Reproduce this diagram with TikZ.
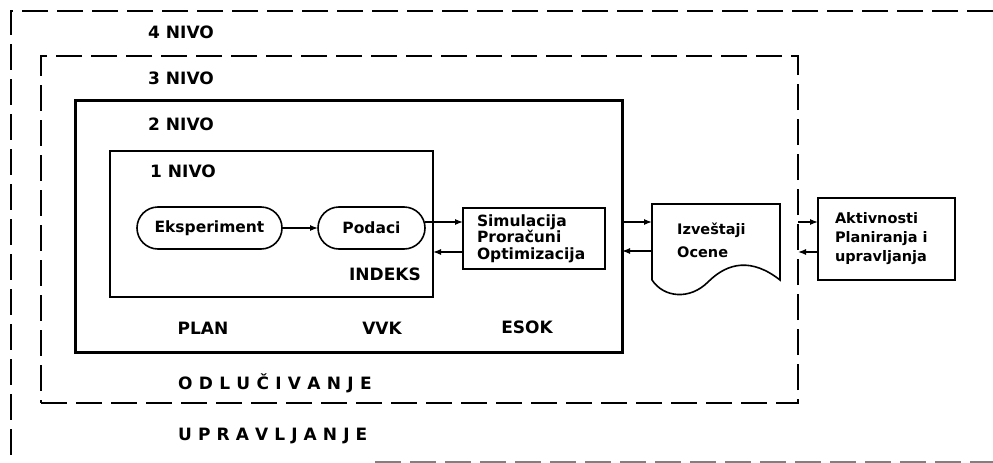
\documentclass[tikz,border=0pt]{standalone}
\usepackage{fontspec}
\setmainfont{DejaVu Sans}
\usetikzlibrary{arrows.meta}
\tikzset{
  lbl/.style={font=\fontsize{17}{19}\selectfont\bfseries, inner sep=0pt},
  boxtxt/.style={font=\fontsize{15.5}{16.5}\selectfont\bfseries},
  lvdash/.style={line width=1.8pt, dash pattern=on 26pt off 9pt},
  lvbox/.style={draw, inner sep=0pt, outer sep=0pt},
  pill/.style={draw, line width=1.6pt, rounded corners=21pt, minimum height=42pt, inner sep=0pt, outer sep=0pt,
    font=\fontsize{15.5}{16.5}\selectfont\bfseries},
  rbox/.style={draw, line width=1.6pt, inner sep=0pt, outer sep=0pt, align=left},
  arr/.style={line width=1.3pt, -{Latex[length=8pt,width=6pt]}}
}
\begin{document}
\begin{tikzpicture}[x=1pt,y=-1pt]
\useasboundingbox (0,0) rectangle (993,463);
% level 4 (outer dashed)
\coordinate (l4tr) at (993,11);
\coordinate (l4tl) at (11,11);
\coordinate (l4bl) at (11,463);
\coordinate (l4bs) at (375,462);
\coordinate (l4be) at (993,462);
\draw[lvdash] (l4tr) -- (l4tl) -- (l4bl);
\draw[line width=1.3pt, gray, dash pattern=on 26pt off 9pt] (l4bs) -- (l4be);
% level 3
\node[lvbox, lvdash, minimum width=757pt, minimum height=347pt] (l3) at (419.5,229.5) {};
% level 2
\node[lvbox, line width=3pt, minimum width=547pt, minimum height=252pt] (l2) at (348.5,226) {};
% level 1
\node[lvbox, line width=1.8pt, minimum width=323pt, minimum height=146pt] (l1) at (271.5,224) {};

% labels
\node[lbl, anchor=west] (n4) at (148,32) {4 NIVO};
\node[lbl, anchor=west] (n3) at (148,78) {3 NIVO};
\node[lbl, anchor=west] (n2) at (148,124) {2 NIVO};
\node[lbl, anchor=west] (n1) at (150,171) {1 NIVO};
\node[lbl] (indeks) at (385,274) {INDEKS};
\node[lbl] (plan) at (203,328) {PLAN};
\node[lbl] (vvk) at (382,328) {VVK};
\node[lbl] (esok) at (527,327) {ESOK};
\node[lbl, anchor=west] (odl) at (178,383) {O\kern6.3pt D\kern6.3pt L\kern6.3pt U\kern6.3pt Č\kern6.3pt I\kern6.3pt V\kern6.3pt A\kern6.3pt N\kern6.3pt J\kern6.3pt E};
\node[lbl, anchor=west] (upr) at (178,436) {U\kern6.1pt P\kern6.1pt R\kern6.1pt A\kern6.1pt V\kern6.1pt L\kern6.1pt J\kern6.1pt A\kern6.1pt N\kern6.1pt J\kern6.1pt E};

% level 1 content
\node[pill, minimum width=145pt] (eks) at (209.5,228) {Eksperiment};
\node[pill, minimum width=107pt] (pod) at (371.5,228) {Podaci};
\draw[arr] (eks) -- (pod);

% simulation box
\node[rbox, boxtxt, minimum width=142pt, minimum height=61pt, text width=114pt, inner xsep=14pt] (sim) at (534,238.5)
  {Simulacija\\Proračuni\\Optimizacija};
\draw[arr] (pod.east |- 0,222) -- (sim.west |- 0,222);
\draw[arr] (sim.west |- 0,252) -- (l1.east |- 0,252);

% report (document shape)
\coordinate (izvA) at (652,204);
\coordinate (izvB) at (780,204);
\coordinate (izvC) at (780,280);
\coordinate (izvD) at (652,280);
\draw[line width=1.6pt] (izvD) -- (izvA) -- (izvB) -- (izvC)
  .. controls (752,258) and (728,262) .. (708,282)
  .. controls (690,300) and (664,298) .. (izvD);
\node[inner sep=0pt, outer sep=0pt, minimum width=128pt, minimum height=76pt] (izv) at (716,242) {};
\node[boxtxt, font=\fontsize{14.5}{23}\selectfont\bfseries, align=left, anchor=west, inner sep=0pt] (izvt) at (677,240.5) {Izveštaji\\Ocene};
\draw[arr] (l2.east |- 0,222) -- (izv.west |- 0,222);
\draw[arr] (izv.west |- 0,251) -- (l2.east |- 0,251);

% activities box
\node[rbox, font=\fontsize{14.5}{19}\selectfont\bfseries, minimum width=137pt, minimum height=82pt, text width=103pt, inner xsep=17pt] (akt) at (886.5,239)
  {Aktivnosti\\Planiranja i\\upravljanja};
\draw[arr] (l3.east |- 0,222) -- (akt.west |- 0,222);
\draw[arr] (akt.west |- 0,252) -- (l3.east |- 0,252);
\end{tikzpicture}
\end{document}
